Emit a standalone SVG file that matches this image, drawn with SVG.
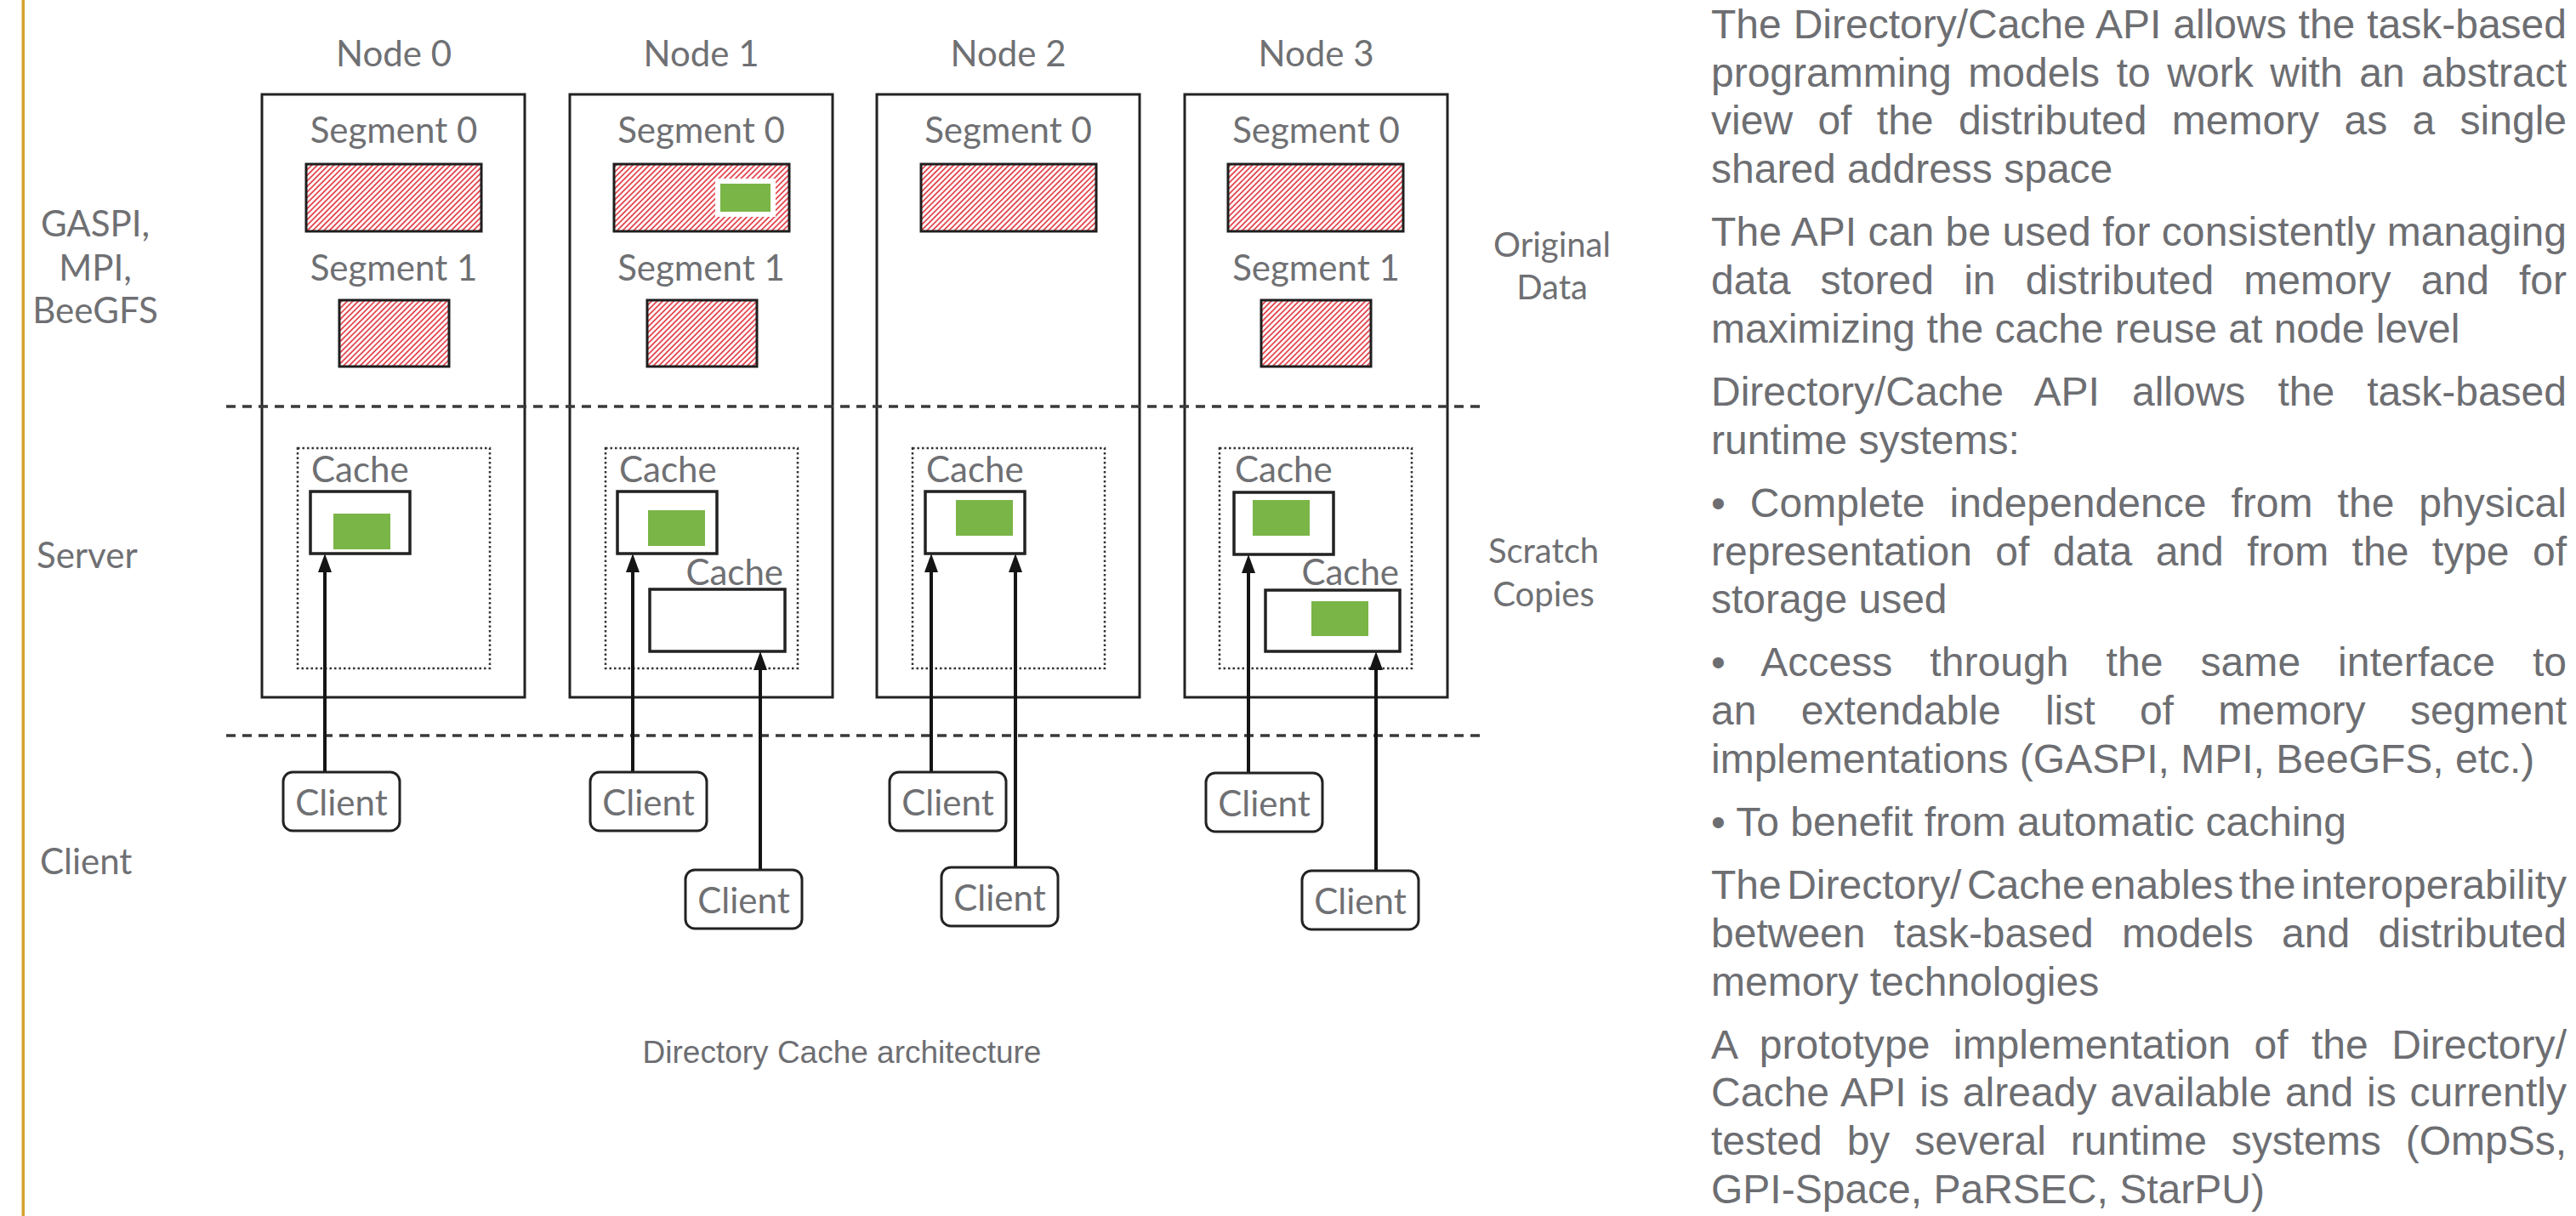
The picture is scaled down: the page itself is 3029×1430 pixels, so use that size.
<svg xmlns="http://www.w3.org/2000/svg" width="3029" height="1430" viewBox="0 0 3029 1430">
<style>
  .lbl { font-family: Lato, "Noto Sans", "Liberation Sans", sans-serif; fill: #6f7073; font-size: 42px; }
  .sm { font-size: 40px; }
  .mid { text-anchor: middle; }
  .end { text-anchor: end; }
  .node { fill: #fff; stroke: #222; stroke-width: 3; }
  .seg { fill: url(#hatch); stroke: #1e1e1e; stroke-width: 3; }
  .scope { fill: none; stroke: #333; stroke-width: 2.5; stroke-dasharray: 2.5 3; }
  .cache { fill: #fff; stroke: #222; stroke-width: 3.5; }
  .blk { fill: #7ab547; }
  .gap { fill: #fff; }
  .layer { stroke: #3a3a3a; stroke-width: 3.5; stroke-dasharray: 11 8; fill: none; }
  .link { stroke: #151515; stroke-width: 4; fill: none; marker-end: url(#head); }
  .client { fill: #fff; stroke: #222; stroke-width: 3; }
  .body { font-family: "Liberation Sans", Arial, sans-serif; font-size: 48px; fill: #6d6e72; }
  .cap { font-family: "Liberation Sans", Arial, sans-serif; font-size: 37px; fill: #6d6e72; }
</style>
<defs>
  <pattern id="hatch" patternUnits="userSpaceOnUse" width="4.6" height="4.6" patternTransform="rotate(45)">
    <rect width="4.6" height="4.6" fill="#fff"/>
    <line x1="1" y1="0" x2="1" y2="4.6" stroke="#e23a44" stroke-width="1.7"/>
  </pattern>
  <marker id="head" viewBox="0 0 22 16" refX="12" refY="8" markerWidth="22" markerHeight="16" markerUnits="userSpaceOnUse" orient="auto">
    <path d="M0,0 L22,8 L0,16 z" fill="#151515"/>
  </marker>
</defs>

<rect width="3029" height="1430" fill="#fff"/>
<!-- margin rule -->
<rect x="25.5" y="0" width="3.5" height="1430" fill="#d6a32e"/>

<!-- layer names -->
<g id="layer-labels" class="lbl">
  <text class="mid" x="112" y="278">GASPI,</text>
  <text class="mid" x="112" y="330">MPI,</text>
  <text class="mid" x="112" y="380">BeeGFS</text>
  <text x="43" y="668">Server</text>
  <text x="47" y="1028">Client</text>
  <text class="mid sm" x="1825" y="302">Original</text>
  <text class="mid sm" x="1825" y="352">Data</text>
  <text class="mid sm" x="1815" y="662">Scratch</text>
  <text class="mid sm" x="1815" y="713">Copies</text>
</g>

<!-- nodes -->
<g id="node0">
  <rect class="node" x="308" y="111" width="309" height="709"/>
  <text class="lbl mid" x="463" y="78">Node 0</text>
  <text class="lbl mid" x="463" y="168">Segment 0</text>
  <rect class="seg" x="360" y="193" width="206" height="79"/>
  <text class="lbl mid" x="463" y="330">Segment 1</text>
  <rect class="seg" x="399" y="353" width="129" height="78"/>
  <rect class="scope" x="350" y="527" width="226" height="259"/>
  <text class="lbl" x="366" y="567">Cache</text>
  <rect class="cache" x="365" y="578" width="117" height="73"/>
  <rect class="blk" x="392" y="604" width="67" height="42"/>
</g>

<g id="node1">
  <rect class="node" x="670" y="111" width="309" height="709"/>
  <text class="lbl mid" x="824.5" y="78">Node 1</text>
  <text class="lbl mid" x="824.5" y="168">Segment 0</text>
  <rect class="seg" x="722" y="193" width="206" height="79"/>
  <rect class="gap" x="841" y="210" width="71" height="45"/>
  <rect class="blk" x="847" y="216" width="59" height="33"/>
  <text class="lbl mid" x="824.5" y="330">Segment 1</text>
  <rect class="seg" x="761" y="353" width="129" height="78"/>
  <rect class="scope" x="712" y="527" width="226" height="259"/>
  <text class="lbl" x="728" y="567">Cache</text>
  <rect class="cache" x="726" y="578" width="117" height="73"/>
  <rect class="blk" x="762" y="600" width="67" height="42"/>
  <text class="lbl end" x="921" y="688">Cache</text>
  <rect class="cache" x="764" y="693" width="159" height="73"/>
</g>

<g id="node2">
  <rect class="node" x="1031" y="111" width="309" height="709"/>
  <text class="lbl mid" x="1185.5" y="78">Node 2</text>
  <text class="lbl mid" x="1185.5" y="168">Segment 0</text>
  <rect class="seg" x="1083" y="193" width="206" height="79"/>
  <rect class="scope" x="1073" y="527" width="226" height="259"/>
  <text class="lbl" x="1089" y="567">Cache</text>
  <rect class="cache" x="1088" y="578" width="117" height="73"/>
  <rect class="blk" x="1124" y="588" width="67" height="42"/>
</g>

<g id="node3">
  <rect class="node" x="1393" y="111" width="309" height="709"/>
  <text class="lbl mid" x="1547.5" y="78">Node 3</text>
  <text class="lbl mid" x="1547.5" y="168">Segment 0</text>
  <rect class="seg" x="1444" y="193" width="206" height="79"/>
  <text class="lbl mid" x="1547.5" y="330">Segment 1</text>
  <rect class="seg" x="1483" y="353" width="129" height="78"/>
  <rect class="scope" x="1434" y="527" width="226" height="259"/>
  <text class="lbl" x="1452" y="567">Cache</text>
  <rect class="cache" x="1451" y="579" width="117" height="73"/>
  <rect class="blk" x="1473" y="588" width="67" height="42"/>
  <text class="lbl end" x="1645" y="688">Cache</text>
  <rect class="cache" x="1488" y="694" width="158" height="72"/>
  <rect class="blk" x="1542" y="707" width="67" height="41"/>
</g>

<!-- tier separators -->
<g id="tiers">
  <line class="layer" x1="266" y1="478" x2="1745" y2="478"/>
  <line class="layer" x1="266" y1="865" x2="1745" y2="865"/>
</g>

<!-- client requests -->
<g id="connectors">
  <line class="link" x1="382" y1="908" x2="382" y2="661"/>
  <line class="link" x1="744" y1="908" x2="744" y2="661"/>
  <line class="link" x1="894" y1="1023" x2="894" y2="776"/>
  <line class="link" x1="1095" y1="908" x2="1095" y2="661"/>
  <line class="link" x1="1194" y1="1020" x2="1194" y2="661"/>
  <line class="link" x1="1468" y1="909" x2="1468" y2="662"/>
  <line class="link" x1="1618" y1="1024" x2="1618" y2="776"/>
</g>

<g id="client0a"><rect class="client" x="333" y="908" width="137" height="69" rx="11"/><text class="lbl mid" x="401.5" y="959">Client</text></g>
<g id="client1a"><rect class="client" x="694" y="908" width="137" height="69" rx="11"/><text class="lbl mid" x="762.5" y="959">Client</text></g>
<g id="client1b"><rect class="client" x="806" y="1023" width="137" height="69" rx="11"/><text class="lbl mid" x="874.5" y="1074">Client</text></g>
<g id="client2a"><rect class="client" x="1046" y="908" width="137" height="69" rx="11"/><text class="lbl mid" x="1114.5" y="959">Client</text></g>
<g id="client2b"><rect class="client" x="1107" y="1020" width="137" height="69" rx="11"/><text class="lbl mid" x="1175.5" y="1071">Client</text></g>
<g id="client3a"><rect class="client" x="1418" y="909" width="137" height="69" rx="11"/><text class="lbl mid" x="1486.5" y="960">Client</text></g>
<g id="client3b"><rect class="client" x="1531" y="1024" width="137" height="69" rx="11"/><text class="lbl mid" x="1599.5" y="1075">Client</text></g>

<text id="caption" class="cap mid" x="990" y="1250">Directory Cache architecture</text>

<!-- description column -->
<g id="notes" class="body">
  <text x="2012" y="45" word-spacing="0.6" textLength="1006" lengthAdjust="spacing">The Directory/Cache API allows the task-based</text>
  <text x="2012" y="102" word-spacing="6.3" textLength="1006" lengthAdjust="spacing">programming models to work with an abstract</text>
  <text x="2012" y="158" word-spacing="16" textLength="1006" lengthAdjust="spacing">view of the distributed memory as a single</text>
  <text x="2012" y="215">shared address space</text>

  <text x="2012" y="289" textLength="1006" lengthAdjust="spacing">The API can be used for consistently managing</text>
  <text x="2012" y="346" word-spacing="21.8" textLength="1006" lengthAdjust="spacing">data stored in distributed memory and for</text>
  <text x="2012" y="403">maximizing the cache reuse at node level</text>

  <text x="2012" y="477" word-spacing="24.8" textLength="1006" lengthAdjust="spacing">Directory/Cache API allows the task-based</text>
  <text x="2012" y="534">runtime systems:</text>

  <text x="2012" y="608" word-spacing="15.6" textLength="1006" lengthAdjust="spacing">• Complete independence from the physical</text>
  <text x="2012" y="665" word-spacing="14.1" textLength="1006" lengthAdjust="spacing">representation of data and from the type of</text>
  <text x="2012" y="721">storage used</text>

  <text x="2012" y="795" word-spacing="30.5" textLength="1006" lengthAdjust="spacing">• Access through the same interface to</text>
  <text x="2012" y="852" word-spacing="39" textLength="1006" lengthAdjust="spacing">an extendable list of memory segment</text>
  <text x="2012" y="909">implementations (GASPI, MPI, BeeGFS, etc.)</text>

  <text x="2012" y="983">• To benefit from automatic caching</text>

  <text x="2012" y="1057" word-spacing="-6.8" textLength="1006" lengthAdjust="spacing">The Directory/ Cache enables the interoperability</text>
  <text x="2012" y="1114" word-spacing="20" textLength="1006" lengthAdjust="spacing">between task-based models and distributed</text>
  <text x="2012" y="1171">memory technologies</text>

  <text x="2012" y="1245" word-spacing="14" textLength="1006" lengthAdjust="spacing">A prototype implementation of the Directory/</text>
  <text x="2012" y="1301" word-spacing="2.3" textLength="1006" lengthAdjust="spacing">Cache API is already available and is currently</text>
  <text x="2012" y="1358" word-spacing="15.6" textLength="1006" lengthAdjust="spacing">tested by several runtime systems (OmpSs,</text>
  <text x="2012" y="1415">GPI-Space, PaRSEC, StarPU)</text>
</g>
</svg>
